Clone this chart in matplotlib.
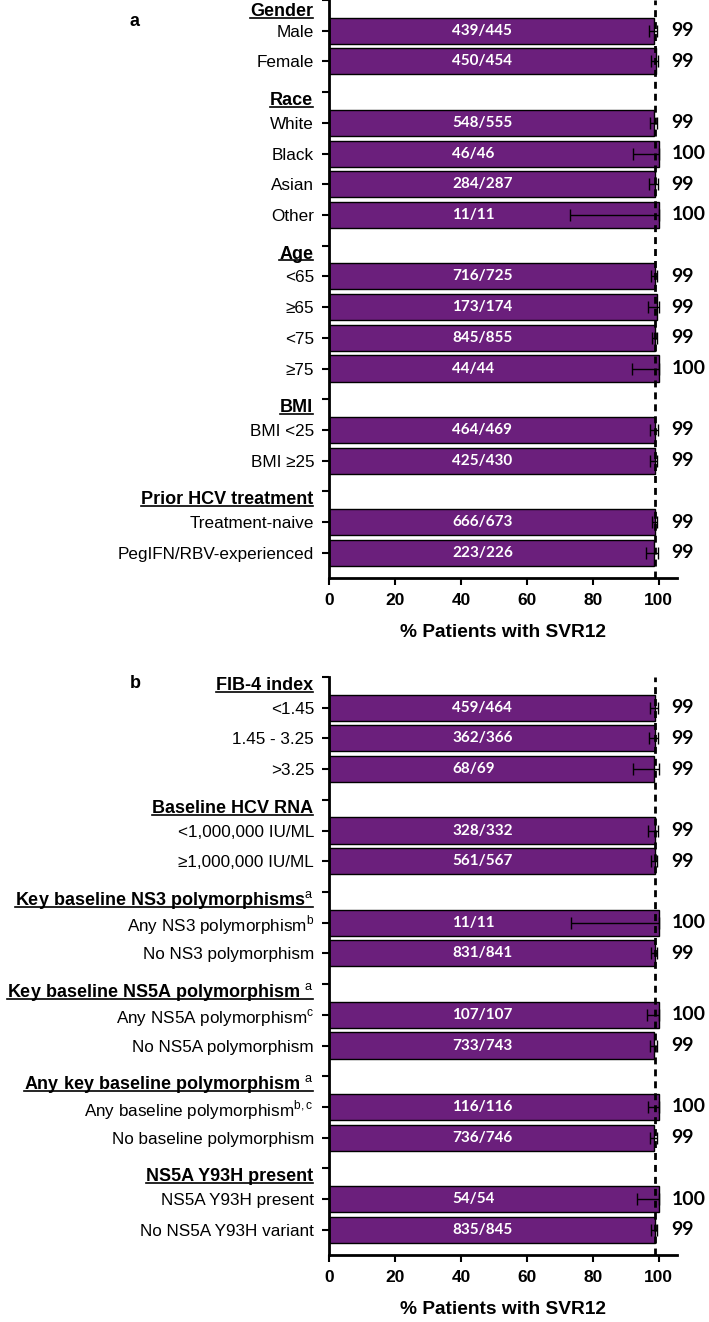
import numpy as np
import matplotlib
matplotlib.use('Agg')
import matplotlib.pyplot as plt
from matplotlib.lines import Line2D

plt.rcParams['font.family'] = ['Liberation Sans', 'DejaVu Sans']
plt.rcParams['mathtext.fontset'] = 'custom'
plt.rcParams['mathtext.rm'] = 'Liberation Sans'
plt.rcParams['mathtext.bf'] = 'Liberation Sans:bold'

PURPLE = '#6B1F7C'
nan = np.nan

# ---- panel a ----
labels_a = ['Gender', 'Male', 'Female',
            'Race', 'White', 'Black', 'Asian', 'Other',
            'Age', '<65', '≥65', '<75', '≥75',
            'BMI', 'BMI <25', 'BMI ≥25',
            'Prior HCV treatment', 'Treatment-naive', 'PegIFN/RBV-experienced']
heads_a = [1, 0, 0, 1, 0, 0, 0, 0, 1, 0, 0, 0, 0, 1, 0, 0, 1, 0, 0]
counts_a = ['', '439/445', '450/454', '', '548/555', '46/46', '284/287', '11/11',
            '', '716/725', '173/174', '845/855', '44/44', '', '464/469', '425/430',
            '', '666/673', '223/226']
pct_a = [nan, 98.65, 99.1, nan, 98.7, 100, 98.95, 100,
         nan, 98.76, 99.4, 98.83, 100, nan, 98.9, 98.8, nan, 98.96, 98.67]
lo_a = [nan, 97.1, 97.8, nan, 97.4, 92.3, 97.0, 73.0,
        nan, 97.7, 96.8, 97.9, 92.0, nan, 97.5, 97.3, nan, 97.9, 96.2]
hi_a = [nan, 99.5, 99.8, nan, 99.5, 100, 99.8, 100,
        nan, 99.4, 100, 99.4, 100, nan, 99.7, 99.6, nan, 99.6, 99.7]
svr_a = ['', '99', '99', '', '99', '100', '99', '100', '', '99', '99', '99', '100',
         '', '99', '99', '', '99', '99']

# ---- panel b ----
labels_b = ['FIB-4 index', '<1.45', '1.45 - 3.25', '>3.25',
            'Baseline HCV RNA', '<1,000,000 IU/ML', '≥1,000,000 IU/ML',
            'Key baseline NS3 polymorphisms$^{\\mathrm{a}}$', 'Any NS3 polymorphism$^{\\mathrm{b}}$', 'No NS3 polymorphism',
            'Key baseline NS5A polymorphism $^{\\mathrm{a}}$', 'Any NS5A polymorphism$^{\\mathrm{c}}$', 'No NS5A polymorphism',
            'Any key baseline polymorphism $^{\\mathrm{a}}$', 'Any baseline polymorphism$^{\\mathrm{b,c}}$', 'No baseline polymorphism',
            'NS5A Y93H present', 'NS5A Y93H present', 'No NS5A Y93H variant']
heads_b = [1, 0, 0, 0, 1, 0, 0, 1, 0, 0, 1, 0, 0, 1, 0, 0, 1, 0, 0]
counts_b = ['', '459/464', '362/366', '68/69', '', '328/332', '561/567',
            '', '11/11', '831/841', '', '107/107', '733/743', '', '116/116', '736/746',
            '', '54/54', '835/845']
pct_b = [nan, 98.9, 98.9, 98.55, nan, 98.8, 98.9, nan, 100, 98.8,
         nan, 100, 98.65, nan, 100, 98.66, nan, 100, 98.8]
lo_b = [nan, 97.5, 97.2, 92.2, nan, 96.9, 97.7, nan, 73.5, 97.8,
        nan, 96.6, 97.5, nan, 96.9, 97.5, nan, 93.4, 97.8]
hi_b = [nan, 99.7, 99.7, 100, nan, 99.7, 99.6, nan, 100, 99.4,
        nan, 100, 99.4, nan, 100, 99.4, nan, 100, 99.4]
svr_b = ['', '99', '99', '99', '', '99', '99', '', '100', '99', '', '100', '99',
         '', '100', '99', '', '100', '99']

overall = 99


def draw_panel(ax, labels, heads, counts, pct, lo, hi, svr, top_off):
    n = len(labels)
    y = np.arange(n)
    pct = np.asarray(pct)
    bars = [i for i in range(n) if not heads[i]]
    ax.barh(y[bars], pct[bars], height=0.85, color=PURPLE, edgecolor='black',
            linewidth=1, zorder=1)
    for i in bars:
        ax.errorbar(pct[i], i, xerr=[[pct[i] - lo[i]], [hi[i] - pct[i]]], fmt='none',
                    ecolor='black', elinewidth=1, capsize=4, capthick=1, zorder=2)
        ax.text(37.3, i, counts[i], color='white', fontweight='bold',
                family=['Lato', 'DejaVu Sans'], fontsize=11, va='center', ha='left')
        ax.text(103.9, i, svr[i], color='black', fontweight='bold',
                family=['Lato', 'DejaVu Sans'], fontsize=14, va='center', ha='left',
                clip_on=False)
    ax.axvline(overall, color='black', lw=2, ls=(0, (2.5, 1.8)), zorder=3)

    ax.set_xlim(0, 105.5)
    ax.set_ylim(18.82, 0.025)
    ax.set_yticks(y)
    ax.set_yticklabels(['' if h else l for l, h in zip(labels, heads)], fontsize=12.3)
    ax.set_xticks([0, 20, 40, 60, 80, 100])
    for t in ax.get_xticklabels():
        t.set_fontweight('bold')
        t.set_fontsize(12.5)
    ax.tick_params(axis='y', length=5, width=1.5, pad=6)
    ax.tick_params(axis='x', length=5, width=1.5, pad=6)
    for s in ['top', 'right']:
        ax.spines[s].set_visible(False)
    ax.spines['left'].set_linewidth(2)
    ax.spines['bottom'].set_linewidth(2)
    ax.set_xlabel('% Patients with SVR12', fontsize=13.8, fontweight='bold', labelpad=11)

    heads_txt = []
    for i in range(n):
        if heads[i]:
            yb = i + (top_off if i == 0 else 0.42)
            t = ax.annotate(labels[i], xy=(0, yb), xycoords=ax.get_yaxis_transform(),
                            xytext=(-11.5, 0), textcoords='offset points',
                            ha='right', va='baseline', fontsize=13, fontweight='bold',
                            annotation_clip=False)
            heads_txt.append((t, yb))
    return heads_txt


fig = plt.figure(figsize=(7.09, 13.22), dpi=100)
ax_a = fig.add_axes([0.4645, 0.5628, 0.490, 0.4372])
ax_b = fig.add_axes([0.4645, 0.0507, 0.490, 0.4372])

ha = draw_panel(ax_a, labels_a, heads_a, counts_a, pct_a, lo_a, hi_a, svr_a, 0.53)
hb = draw_panel(ax_b, labels_b, heads_b, counts_b, pct_b, lo_b, hi_b, svr_b, 0.42)

fig.text(135 / 709, 1 - 22 / 1322, 'a', fontsize=13, fontweight='bold', ha='center', va='center')
fig.text(135 / 709, 1 - 683 / 1322, 'b', fontsize=13, fontweight='bold', ha='center', va='center')

# underline the group headers
fig.canvas.draw()
r = fig.canvas.get_renderer()
W, H = fig.bbox.width, fig.bbox.height
for ax, hs in [(ax_a, ha), (ax_b, hb)]:
    for t, yb in hs:
        bb = t.get_window_extent(r)
        yl = ax.transData.transform((0, yb))[1] - 1.8
        fig.add_artist(Line2D([bb.x0 / W, bb.x1 / W], [yl / H, yl / H],
                              transform=fig.transFigure, color='black', lw=1.2))

fig.savefig('out.png', dpi=100)
